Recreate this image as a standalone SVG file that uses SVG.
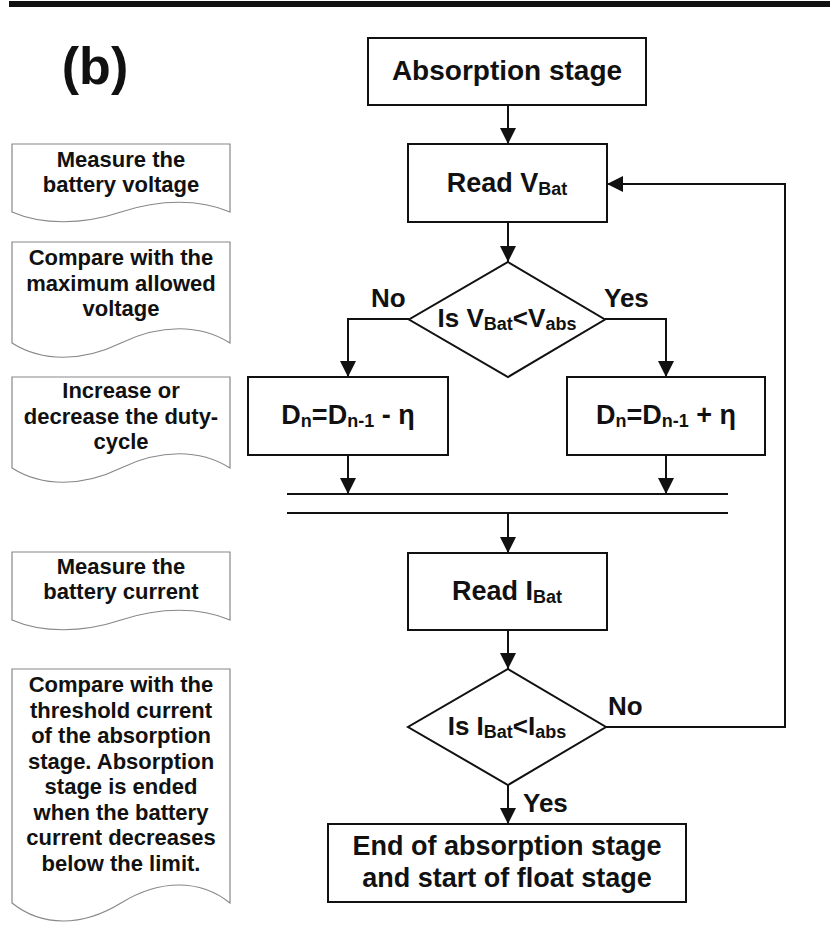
<svg xmlns="http://www.w3.org/2000/svg" width="830" height="932" viewBox="0 0 830 932">
  <defs>
    <marker id="arrow" markerUnits="userSpaceOnUse" markerWidth="16" markerHeight="16" refX="16" refY="8" orient="auto">
      <path d="M0,0 L16,8 L0,16 Z" fill="#111"/>
    </marker>
    <style>
      text { font-family: "Liberation Sans", Arial, sans-serif; font-weight: bold; fill: #111; }
      .box { fill: #fff; stroke: #111; stroke-width: 2; }
      .doc { fill: #fff; stroke: #888; stroke-width: 1.2; }
      .main { font-size: 27px; text-anchor: middle; }
      .note { font-size: 22px; text-anchor: middle; }
      .lbl { font-size: 26px; }
      .sub { font-size: 18px; }
      .wire { fill: none; stroke: #111; stroke-width: 2; }
      .arr { marker-end: url(#arrow); }
    </style>
  </defs>

  <rect width="830" height="932" fill="#fff"/>
  <!-- heading rule and panel tag -->
  <rect x="9" y="1" width="821" height="6" fill="#111"/>
  <text x="95" y="84" font-size="52" text-anchor="middle">(b)</text>

  <!-- side notes -->
  <g id="note-measure-voltage">
    <path class="doc" d="M12,144 H230 V212 C200,199 160,199 121,212 C82,225 42,225 12,212 Z"/>
    <text class="note" x="121" y="167">Measure the</text>
    <text class="note" x="121" y="192">battery voltage</text>
  </g>
  <g id="note-compare-voltage">
    <path class="doc" d="M12,242 H230 V343 C200,324 160,324 121,343 C82,362 42,362 12,343 Z"/>
    <text class="note" x="121" y="265">Compare with the</text>
    <text class="note" x="121" y="291">maximum allowed</text>
    <text class="note" x="121" y="316">voltage</text>
  </g>
  <g id="note-duty">
    <path class="doc" d="M12,377 H230 V468 C200,449 160,449 121,468 C82,487 42,487 12,468 Z"/>
    <text class="note" x="121" y="398">Increase or</text>
    <text class="note" x="121" y="424">decrease the duty-</text>
    <text class="note" x="121" y="449">cycle</text>
  </g>
  <g id="note-measure-current">
    <path class="doc" d="M12,552 H230 V620 C200,607 160,607 121,620 C82,633 42,633 12,620 Z"/>
    <text class="note" x="121" y="574">Measure the</text>
    <text class="note" x="121" y="599">battery current</text>
  </g>
  <g id="note-compare-current">
    <path class="doc" d="M12,669 H230 V903 C200,879 160,879 121,903 C82,927 42,927 12,903 Z"/>
    <text class="note" x="121" y="692">Compare with the</text>
    <text class="note" x="121" y="718">threshold current</text>
    <text class="note" x="121" y="743">of the absorption</text>
    <text class="note" x="121" y="769">stage. Absorption</text>
    <text class="note" x="121" y="794">stage is ended</text>
    <text class="note" x="121" y="820">when the battery</text>
    <text class="note" x="121" y="845">current decreases</text>
    <text class="note" x="121" y="871">below the limit.</text>
  </g>

  <!-- connectors -->
  <g id="connectors">
    <path class="wire arr" d="M508,105 V144"/>
    <path class="wire arr" d="M508,222 V262"/>
    <path class="wire arr" d="M409,319 H348 V377"/>
    <path class="wire arr" d="M605,319 H666 V377"/>
    <path class="wire arr" d="M348,455 V494"/>
    <path class="wire arr" d="M666,455 V494"/>
    <path class="wire" d="M287,494 H728 M287,513 H728"/>
    <path class="wire arr" d="M508,513 V553"/>
    <path class="wire arr" d="M508,630 V669"/>
    <path class="wire arr" d="M606,727 H785 V184 H607"/>
    <path class="wire arr" d="M508,785 V824"/>
    <text class="lbl" x="371" y="307">No</text>
    <text class="lbl" x="604" y="307">Yes</text>
    <text class="lbl" x="608" y="715">No</text>
    <text class="lbl" x="523" y="812">Yes</text>
  </g>

  <!-- flow nodes -->
  <g id="absorption-stage">
    <rect class="box" x="368" y="38" width="278" height="67"/>
    <text class="main" x="507" y="80" style="font-size:28px">Absorption stage</text>
  </g>
  <g id="read-vbat">
    <rect class="box" x="408" y="144" width="199" height="78"/>
    <text class="main" x="507" y="192">Read V<tspan class="sub" dy="3">Bat</tspan></text>
  </g>
  <g id="check-vbat">
    <path class="box" d="M508,262 L605,319.5 L508,377 L409,319.5 Z"/>
    <text class="main" x="507" y="327" style="font-size:26px">Is V<tspan class="sub" dy="3">Bat</tspan><tspan dy="-3">&lt;V</tspan><tspan class="sub" dy="3">abs</tspan></text>
  </g>
  <g id="decrease-duty">
    <rect class="box" x="248" y="377" width="200" height="78"/>
    <text class="main" x="348" y="424">D<tspan class="sub" dy="3">n</tspan><tspan dy="-3">=D</tspan><tspan class="sub" dy="3">n-1</tspan><tspan dy="-3"> - η</tspan></text>
  </g>
  <g id="increase-duty">
    <rect class="box" x="567" y="377" width="198" height="78"/>
    <text class="main" x="666" y="424">D<tspan class="sub" dy="3">n</tspan><tspan dy="-3">=D</tspan><tspan class="sub" dy="3">n-1</tspan><tspan dy="-3"> + η</tspan></text>
  </g>
  <g id="read-ibat">
    <rect class="box" x="408" y="553" width="199" height="77"/>
    <text class="main" x="507" y="600">Read I<tspan class="sub" dy="3">Bat</tspan></text>
  </g>
  <g id="check-ibat">
    <path class="box" d="M508,669 L606,727 L508,785 L408,727 Z"/>
    <text class="main" x="507" y="735" style="font-size:26px">Is I<tspan class="sub" dy="3">Bat</tspan><tspan dy="-3">&lt;I</tspan><tspan class="sub" dy="3">abs</tspan></text>
  </g>
  <g id="end-absorption">
    <rect class="box" x="328" y="824" width="358" height="78"/>
    <text class="main" x="507" y="855">End of absorption stage</text>
    <text class="main" x="507" y="887">and start of float stage</text>
  </g>
</svg>
